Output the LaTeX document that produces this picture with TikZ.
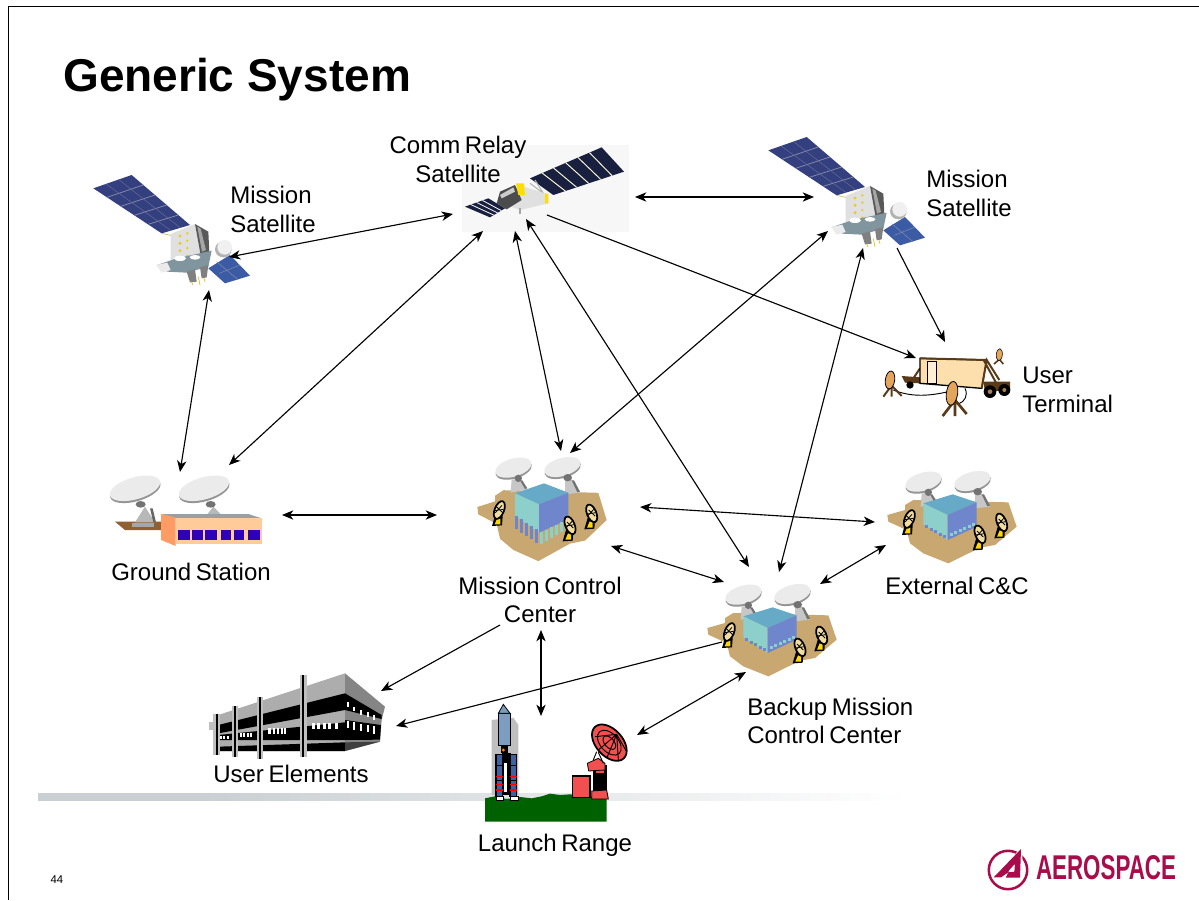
\documentclass[tikz,border=0pt]{standalone}
\usepackage{fontspec}
\usepackage{graphicx}
\setmainfont{Liberation Sans}[WordSpace=0.7]
\newfontfamily\titlefont{Liberation Sans}[WordSpace=1.0]
\usetikzlibrary{arrows.meta,calc}
\definecolor{land}{HTML}{C8A870}
\definecolor{cubetop}{HTML}{66AAC8}
\definecolor{cubeleft}{HTML}{8CCFCB}
\definecolor{cuberight}{HTML}{6F86CC}
\definecolor{panel}{HTML}{333F7E}
\definecolor{panelb}{HTML}{3B5BA5}
\definecolor{gridc}{HTML}{8288A8}
\definecolor{crim}{HTML}{A80C4A}
\definecolor{tan2}{HTML}{E3A45C}
\definecolor{peach}{HTML}{FDDFAE}
\definecolor{rred}{HTML}{F25050}
\definecolor{barc}{HTML}{C9CFD2}
\definecolor{hull}{HTML}{7C9CC0}
\definecolor{boost}{HTML}{3F62A0}
\definecolor{dishtan}{HTML}{F2DDA0}
\definecolor{frame}{HTML}{5A3A18}
\tikzset{
  lbl/.style={font=\fontsize{18}{21.6}\selectfont,inner sep=0pt,align=center},
  lblleft/.style={lbl,align=left,anchor=west},
  both/.style={draw=black,line width=.85pt,{Stealth[length=8.5pt,width=7pt,inset=2.5pt]}-{Stealth[length=8.5pt,width=7pt,inset=2.5pt]}},
  oneway/.style={draw=black,line width=.85pt,-{Stealth[length=8.5pt,width=7pt,inset=2.5pt]}}
}
\newcommand\elli[6]{\path[#1,rotate around={#6:(#2,#3)}] (#2,#3) ellipse [x radius=#4,y radius=#5];}
% large grey dish: x, y, x radius, y radius
\newcommand\bigdish[4]{%
  \elli{fill=black!42}{#1+1}{#2+6}{#3}{#4}{16}
  \elli{fill=black!8}{#1}{#2}{#3}{#4}{16}
}
% satellite, drawn in the coordinates of a 3x crop
\newcommand\missionsat[2]{%
\begin{scope}[shift={(#1,#2)},scale=1/3]
  \fill[panel] (40,175)--(155,135)--(330,285)--(245,310)--cycle;
  \foreach \t in {.2,.4,.6,.8}{\draw[gridc,line width=.6pt] ($(40,175)!\t!(245,310)$)--($(155,135)!\t!(330,285)$);}
  \foreach \t in {.33,.66}{\draw[gridc!60!panel,line width=.4pt] ($(40,175)!\t!(155,135)$)--($(245,310)!\t!(330,285)$);}
  \fill[panelb] (385,415)--(450,375)--(510,437)--(435,460)--cycle;
  \draw[gridc,line width=.4pt] (410,395)--(475,450) (418,430)--(480,405);
  \draw[yellow!50!gray,line width=.5pt] (245,310)--(290,320);
  \fill[black!12] (272,312)--(345,282)--(362,375)--(272,402)--cycle;
  \fill[black!65] (345,282)--(385,305)--(388,368)--(362,376)--cycle;
  \fill[black!35] (352,290)--(362,296)--(378,360)--(366,365)--cycle;
  \foreach \yy in {318,340,362,385}{\fill[yellow!60!brown] (300,\yy) circle (5);\fill[yellow!60!brown] (322,\yy-8) circle (4);}
  \fill[black!20!cyan!25!gray] (232,405)--(290,385)--(395,362)--(385,410)--(320,428)--(262,425)--cycle;
  \fill[white] (300,385) ellipse (18 and 8) (345,382) ellipse (16 and 7);
  \fill[black!8] (228,405)--(262,398)--(272,420)--(245,428)--cycle;
  \elli{fill=black!30}{430}{358}{25}{24}{0}
  \elli{fill=black!6}{434}{352}{22}{22}{0}
  \fill[black!50] (320,425)--(345,418)--(350,455)--(330,457)--cycle;
  \fill[black!50] (360,412)--(385,405)--(380,442)--(365,445)--cycle;
  \draw[yellow!50!brown,line width=.6pt] (335,455)--(338,465) (355,440)--(360,465) (372,445)--(375,455);
\end{scope}}
% small dish of a control site
\newcommand\minidish[3]{%
  \fill[black] (#1-12,#2+4)--(#1+10,#2+8)--(#1+8,#2+36)--(#1-22,#2+38)--cycle;
  \fill[yellow!75!orange] (#1-6,#2+14)--(#1+3,#2+16)--(#1+3,#2+33)--(#1-14,#2+33)--cycle;
  \elli{fill=dishtan,draw=black,line width=1.3pt}{#1}{#2-10}{14}{28}{#3}
  \draw[black,line width=.6pt] (#1-9,#2-20)--(#1+10,#2-2) (#1-12,#2-2)--(#1+8,#2-24) (#1-14,#2-8)--(#1+12,#2-12);
}
% control site: x, y, drop of land and cube, cube
\newcommand\ctrsite[4]{%
\begin{scope}[shift={(#1,#2)},scale=1/3]
  \bigdish{130}{50}{56}{27}
  \bigdish{277}{48}{56}{27}
  \begin{scope}[yscale={1+#3*0.012}]
  \fill[land] (22,150)--(75,135)--(75,120)--(100,105)--(385,112)--(410,185)--(345,240)--(300,248)--(205,295)--(130,265)--(90,235)--(80,195)--(25,170)--cycle;
  \end{scope}
  \fill[black!22] (125,85)--(150,85)--(170,115)--(122,125)--cycle;
  \fill[black!22] (285,85)--(305,85)--(330,125)--(285,130)--cycle;
  \fill[black!55] (150,88)--(157,88)--(172,112)--(165,114)--cycle (305,88)--(312,88)--(330,122)--(322,124)--cycle;
  \elli{fill=black!55}{145}{82}{11}{11}{0}
  \elli{fill=black!55}{293}{80}{13}{11}{0}
  #4
  \begin{scope}[shift={(0,#3*1.5)}]
  \minidish{88}{172}{-22}
  \minidish{300}{218}{22}
  \minidish{365}{182}{22}
  \end{scope}
\end{scope}}
\newcommand\smallcube{%
  \fill[cubetop] (130,115)--(218,88)--(290,112)--(203,150)--cycle;
  \fill[cubeleft] (130,115)--(203,150)--(203,225)--(130,178)--cycle;
  \fill[cuberight] (203,150)--(290,112)--(290,185)--(203,225)--cycle;
  \foreach \x/\y in {135/180,150/188,163/196,177/203,190/210}{\fill[cuberight] (\x,\y) rectangle ++(9,9);}
  \foreach \x/\y in {210/212,223/207,236/201,250/195,263/189,276/183}{\fill[cubeleft] (\x,\y) rectangle ++(9,-8);}
}
\newcommand\tallcube{%
  \fill[cubetop] (135,127)--(222,97)--(295,125)--(207,160)--cycle;
  \fill[cubeleft] (135,127)--(207,160)--(207,245)--(135,195)--cycle;
  \fill[cuberight] (207,160)--(295,125)--(295,205)--(207,245)--cycle;
  \foreach \x/\y in {135/195,150/205,165/215,180/225,195/235}{\fill[cuberight] (\x,\y) rectangle ++(10,40);}
  \foreach \x/\y in {210/242,225/236,240/228,255/221,270/214,284/207}{\fill[cubeleft] (\x,\y) rectangle ++(9,36-\x/10+21);}
}
\begin{document}
\begin{tikzpicture}[x=.75pt,y=-.75pt]
\useasboundingbox (0,0) rectangle (1199,900);
\fill[white] (0,0) rectangle (1199,900);
% slide frame
\draw[black,line width=.75pt] (8,900)--(8,6)--(1199,6);
% bar
\fill[barc] (38,793) rectangle (201,801);
\foreach \k in {0,...,69}{
  \pgfmathsetmacro\pct{100-\k*100/70}
  \fill[barc!\pct!white] (200+\k*10,793) rectangle (211+\k*10,801);
}
% title and page number
\node[font=\fontsize{34.5}{40}\titlefont\bfseries\selectfont,inner sep=0pt,anchor=west] (title) at (63,80) {Generic System};
\node[font=\fontsize{8.5}{10}\selectfont,inner sep=0pt] (pageno) at (57,880) {44};

% mission satellites
\missionsat{80}{130}
\missionsat{755}{92}

% comm relay satellite
\begin{scope}[shift={(450,130)},scale=1/3]
  \fill[black!3] (35,45) rectangle (537,305);
  \fill[panel!50!black] (45,230)--(115,205)--(165,235)--(120,262)--cycle;
  \foreach \t in {.25,.5,.75}{\draw[white,line width=.6pt] ($(45,230)!\t!(115,205)$)--($(120,262)!\t!(165,235)$);}
  \fill[panel!50!black] (240,145)--(455,52)--(522,125)--(310,195)--cycle;
  \foreach \t in {.17,.33,.5,.67,.83}{\draw[white!85!yellow,line width=.7pt] ($(240,145)!\t!(455,52)$)--($(310,195)!\t!(522,125)$);}
  \draw[black!30,line width=.8pt] (240,160)--(280,190) (255,150)--(280,190);
  \fill[black!12] (205,165)--(285,190)--(295,220)--(210,240)--(160,222)--cycle;
  \fill[black!70] (150,185)--(195,165)--(215,210)--(170,238)--(140,220)--cycle;
  \fill[yellow!80!orange] (198,160)--(222,160)--(225,195)--(205,195)--cycle (285,190)--(295,192)--(295,220)--(285,220)--cycle;
  \fill[black!20] (150,195)--(190,172)--(195,185)--(155,205)--cycle;
  \fill[black!35] (207,235) rectangle (213,252);
\end{scope}

% user terminal
\begin{scope}[shift={(870,340)},scale=1/3]
  \fill[frame] (95,108)--(150,112)--(150,130)--(105,128)--cycle;
  \fill[black] (120,135) circle (11);
  \draw[frame,line width=1.5pt] (130,115)--(150,85);
  \draw[black,line width=.7pt] (70,150) .. controls (120,170) and (170,170) .. (235,155);
  \draw[black,line width=.7pt] (285,145) .. controls (295,165) and (285,185) .. (265,192);
  \fill[frame] (340,125)--(420,125)--(420,150)--(345,155)--cycle;
  \fill[peach,draw=black,line width=1pt] (150,55)--(350,60)--(335,145)--(150,130)--cycle;
  \draw[frame,line width=1.5pt] (150,55)--(350,60);
  \draw[frame,line width=1.5pt] (335,145)--(350,60)--(388,120) (342,62)--(378,128);
  \fill[peach!50!white,draw=black,line width=.6pt] (172,65) rectangle (198,130);
  \fill[black] (360,155) circle (19) (403,150) circle (18);
  \fill[brown!60!gray] (360,155) circle (7) (403,150) circle (6);
  \draw[frame,line width=1.5pt] (62,140)--(40,170) (65,140)--(65,170) (68,140)--(95,168);
  \elli{fill=tan2,draw=black,line width=.6pt}{60}{120}{14}{27}{-8}
  \draw[frame,line width=2pt] (255,180)--(218,228) (255,180)--(255,228) (255,180)--(290,222);
  \elli{fill=tan2,draw=black,line width=.6pt}{246}{160}{17}{36}{-8}
  \draw[frame,line width=1.2pt] (388,58)--(372,72) (388,58)--(400,72);
  \elli{fill=tan2,draw=black,line width=.4pt}{388}{44}{9}{18}{-5}
\end{scope}

% ground station
\begin{scope}[shift={(100,465)},scale=1/3]
  \fill[brown!75!black] (45,170)--(185,170)--(185,195)--(75,195)--cycle;
  \bigdish{105}{70}{78}{33}
  \bigdish{312}{70}{78}{33}
  \fill[black!28] (135,125)--(105,172)--(165,172)--cycle;
  \fill[black!28] (340,125)--(320,150)--(365,150)--cycle;
  \fill[black!60] (150,130)--(158,130)--(168,172)--(160,172)--cycle;
  \fill[black!35] (97,173) rectangle (162,185);
  \elli{fill=black!55}{122}{118}{15}{10}{0}
  \elli{fill=black!55}{332}{118}{15}{10}{0}
  \fill[black!38] (183,147)--(445,147)--(485,160)--(227,160)--cycle;
  \fill[orange!70!red!60!white] (183,147)--(227,158)--(227,243)--(183,225)--cycle;
  \fill[orange!40!white] (227,160)--(485,160)--(485,238)--(227,238)--cycle;
  \foreach \a/\b in {234/270,276/310,315/351,364/392,402/432,444/480}{\fill[blue!80!red!90!black] (\a,195) rectangle (\b,225);}
\end{scope}

% control centers
\ctrsite{470}{451}{10}{\tallcube}
\ctrsite{880}{465}{0}{\smallcube}
\ctrsite{700}{578}{0}{\smallcube}

% user elements
\begin{scope}[shift={(200,665)},scale=1/3]
  \fill[black!25] (28,170) rectangle (55,195);
  \fill[black!32] (55,150)--(435,25)--(435,258)--(55,258)--cycle;
  \fill[black] (55,180)--(435,85)--(435,135)--(55,205)--cycle;
  \fill[black] (55,210)--(435,172)--(435,225)--(55,225)--cycle;
  \fill[black] (55,245)--(435,232)--(435,258)--(55,258)--cycle;
  \foreach \x in {335,350,368,385,405}{\fill[white] (\x,175) rectangle ++(9,18);}
  \foreach \x in {205,218,230,242,252}{\fill[white] (\x,190) rectangle ++(7,18);}
  \foreach \x in {120,130,140,150}{\fill[white] (\x,204) rectangle ++(6,11);}
  \foreach \x in {60,70,80}{\fill[white] (\x,213) rectangle ++(6,9);}
  \fill[black!48] (435,25)--(555,125)--(545,165)--(540,230)--(435,258)--cycle;
  \fill[black] (435,85)--(545,150)--(545,162)--(435,135)--cycle;
  \fill[black] (435,165)--(543,180)--(540,224)--(435,225)--cycle;
  \fill[black!75] (435,232)--(540,230)--(435,258)--cycle;
  \foreach \x/\y in {440/112,460/125,480/135,500/142,520/150}{\fill[white] (\x,\y) rectangle ++(6,14);}
  \foreach \x/\y in {440/168,460/172,480/176,500/180,520/184}{\fill[white] (\x,\y) rectangle ++(6,22);}
  \foreach \x/\t/\b in {50/148/270,105/122/275,180/95/282,310/30/275}{
    \fill[black!25] (\x-10,\t) rectangle (\x-3,\b);
    \fill[black] (\x-3,\t) rectangle (\x+3,\b);
    \fill[black!25] (\x+3,\t) rectangle (\x+10,\b);
  }
\end{scope}

% launch range
\begin{scope}[shift={(470,695)},scale=1/3]
  \fill[black!25] (65,75)--(130,68)--(145,90)--(145,300)--(65,300)--cycle;
  \fill[green!38!black] (45,310)--(75,304)--(110,312)--(150,306)--(185,310)--(215,304)--(240,296)--(270,300)--(300,298)--(350,304)--(410,305)--(410,380)--(45,380)--cycle;
  \fill[hull,draw=black,line width=.6pt] (85,55)--(120,55)--(120,150)--(85,150)--cycle;
  \fill[hull,draw=black,line width=.6pt] (85,55)--(100,28)--(120,55)--cycle;
  \fill[black] (92,150) rectangle (115,175);
  \fill[orange] (100,165) circle (5);
  \fill[black] (96,175) rectangle (122,300);
  \fill[white] (103,205) rectangle (112,290);
  \foreach \x in {78,120}{
    \fill[boost,draw=black,line width=.8pt] (\x,178) rectangle (\x+20,305);
    \draw[black,line width=.6pt] (\x,210)--(\x+20,210) (\x,255)--(\x+20,255);
    \draw[red,line width=.8pt] (\x,245)--(\x+20,245) (\x,268)--(\x+20,268) (\x,285)--(\x+20,285);
  }
  \fill[white,draw=black,line width=.4pt] (78,305) rectangle (100,315) (120,305) rectangle (146,315);
  \fill[rred,draw=black,line width=1pt] (307,243) rectangle (360,308);
  \fill[black] (370,210) rectangle (410,290);
  \fill[rred] (378,210) rectangle (402,235);
  \fill[rred,draw=black,line width=.6pt] (365,288)--(410,285)--(415,312)--(365,312)--cycle;
  \fill[rred,draw=black,line width=.6pt] (352,205)--(385,190)--(405,205)--(405,225)--(356,228)--cycle;
  \draw[black,line width=.7pt] (380,170)--(370,195) (385,172)--(400,205);
  \elli{fill=rred,draw=black,line width=1.3pt}{418}{143}{64}{40}{-48}
  \begin{scope}
  \clip[rotate around={-48:(418,143)}] (418,143) ellipse [x radius=64,y radius=40];
  \draw[black,line width=.7pt] (440,118)--(375,125) (440,118)--(385,165) (440,118)--(410,190) (440,118)--(445,195) (440,118)--(470,170);
  \draw[black,line width=.7pt,rotate around={-48:(418,143)}] (418,143) ellipse [x radius=44,y radius=27];
  \draw[black,line width=.7pt,rotate around={-48:(418,143)}] (418,143) ellipse [x radius=24,y radius=14];
  \end{scope}
\end{scope}

% labels
\node[lblleft] (lmsL) at (230,209.5) {Mission\\Satellite};
\node[lblleft] (lmsR) at (926,193.5) {Mission\\Satellite};
\node[lbl] (lrelay) at (458,159.5) {Comm Relay\\Satellite};
\node[lblleft] (luser) at (1022,390) {User\\Terminal};
\node[lbl] (lgs) at (191,572) {Ground Station};
\node[lbl] (lmcc) at (540,600) {Mission Control\\Center};
\node[lbl] (lext) at (957,586) {External C\&C};
\node[lblleft] (lbmcc) at (747,721) {Backup Mission\\Control Center};
\node[lbl] (lue) at (291,774) {User Elements};
\node[lbl] (llr) at (555,845) {Launch Range};

% logo
\draw[crim,line width=1.9pt] (1008,870) circle (19.2);
\begin{scope}[shift={(985,845)},scale=1/3]
  \fill[white] (20,100)--(112,5)--(112,100)--cycle;
  \fill[crim,even odd rule] (26,97)--(108,12)--(105,98)--(62,98)--(70,82)--(48,97)--cycle
    (72,76)--(90,56)--(88,80)--(70,82)--cycle;
\end{scope}
\node[inner sep=0pt,text=crim,anchor=center] (logotext) at (1106,868) {\resizebox{105pt}{18pt}{\bfseries AEROSPACE}};

% connector ends
\coordinate (a1) at (229,257); \coordinate (b1) at (453,214);
\coordinate (a2) at (209,290); \coordinate (b2) at (180,472);
\coordinate (a3) at (229,465); \coordinate (b3) at (483,231);
\coordinate (a4) at (515,231); \coordinate (b4) at (561,451);
\coordinate (a5) at (526,219); \coordinate (b5) at (749,567);
\coordinate (a6) at (635,197); \coordinate (b6) at (814,197);
\coordinate (a7) at (547,215); \coordinate (b7) at (916,358);
\coordinate (a8) at (897,248); \coordinate (b8) at (945,342);
\coordinate (a9) at (828,231); \coordinate (b9) at (570,453);
\coordinate (a10) at (863,248); \coordinate (b10) at (779,572);
\coordinate (a11) at (282,515); \coordinate (b11) at (437,515);
\coordinate (a12) at (640,507); \coordinate (b12) at (875,522);
\coordinate (a13) at (611,546); \coordinate (b13) at (724,582);
\coordinate (a14) at (820,584); \coordinate (b14) at (886,545);
\coordinate (a15) at (500,625); \coordinate (b15) at (381,691);
\coordinate (a16) at (541,630); \coordinate (b16) at (541,716);
\coordinate (a17) at (722,642); \coordinate (b17) at (396,726);
\coordinate (a18) at (746,672); \coordinate (b18) at (637,735);
\foreach \i in {1,2,3,4,5,6,9,10,11,12,13,14,16,18}{\draw[both] (a\i) -- (b\i);}
\foreach \i in {7,8,15,17}{\draw[oneway] (a\i) -- (b\i);}
\end{tikzpicture}
\end{document}
